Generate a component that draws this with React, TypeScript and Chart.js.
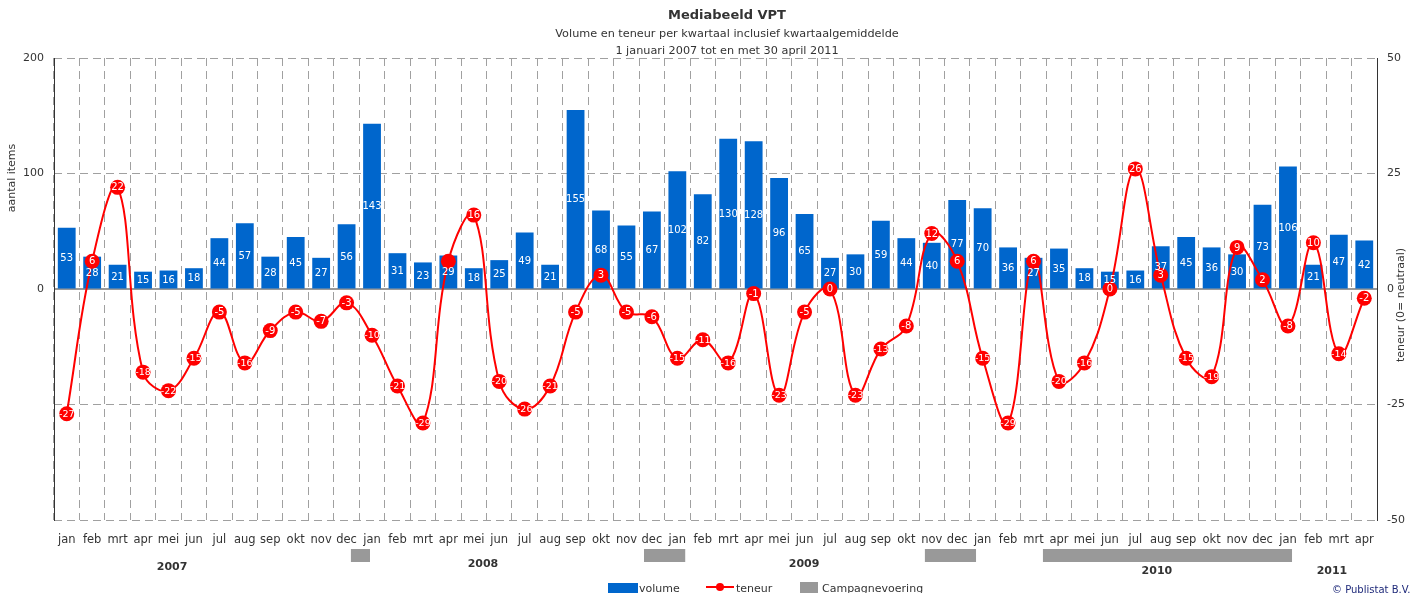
import React, { useEffect, useRef } from 'react';
import { Chart, registerables } from 'chart.js';

Chart.register(...registerables);

const FONT = '"DejaVu Sans", Verdana, sans-serif';

const categories = [
  'jan', 'feb', 'mrt', 'apr', 'mei', 'jun', 'jul', 'aug', 'sep', 'okt', 'nov', 'dec',
  'jan', 'feb', 'mrt', 'apr', 'mei', 'jun', 'jul', 'aug', 'sep', 'okt', 'nov', 'dec',
  'jan', 'feb', 'mrt', 'apr', 'mei', 'jun', 'jul', 'aug', 'sep', 'okt', 'nov', 'dec',
  'jan', 'feb', 'mrt', 'apr', 'mei', 'jun', 'jul', 'aug', 'sep', 'okt', 'nov', 'dec',
  'jan', 'feb', 'mrt', 'apr',
];

const volume = [
  53, 28, 21, 15, 16, 18, 44, 57, 28, 45, 27, 56,
  143, 31, 23, 29, 18, 25, 49, 21, 155, 68, 55, 67,
  102, 82, 130, 128, 96, 65, 27, 30, 59, 44, 40, 77,
  70, 36, 27, 35, 18, 15, 16, 37, 45, 36, 30, 73,
  106, 21, 47, 42,
];

const teneur = [
  -27, 6, 22, -18, -22, -15, -5, -16, -9, -5, -7, -3,
  -10, -21, -29, 6, 16, -20, -26, -21, -5, 3, -5, -6,
  -15, -11, -16, -1, -23, -5, 0, -23, -13, -8, 12, 6,
  -15, -29, 6, -20, -16, 0, 26, 3, -15, -19, 9, 2,
  -8, 10, -14, -2,
];

// point labels hidden behind an overlapping bar label
const hiddenTeneurLabels = [15];

const years = ['2007', '2008', '2009', '2010', '2011'];
const yearAnchor = [4.14, 16.36, 28.98, 42.85, 49.73];

// campaign periods in month-index units (start, end)
const campaignStart = [11.17, 22.69, 33.73, 38.37];
const campaignEnd = [11.92, 24.31, 35.74, 48.16];

const titleText = 'Mediabeeld VPT';
const subtitleLines = [
  'Volume en teneur per kwartaal inclusief kwartaalgemiddelde',
  '1 januari 2007 tot en met 30 april 2011',
];

const BLUE = '#0066CC';
const RED = '#FF0000';
const GRID = '#a0a0a0';
const TEXT = '#333333';

const decorPlugin = {
  id: 'decor',
  afterDatasetsDraw(chart: any) {
    const ctx = chart.ctx;
    const barMeta = chart.getDatasetMeta(0);
    const lineMeta = chart.getDatasetMeta(1);
    ctx.save();
    ctx.fillStyle = '#ffffff';
    ctx.textAlign = 'center';
    ctx.textBaseline = 'middle';
    lineMeta.data.forEach((pt: any, i: number) => {
      if (hiddenTeneurLabels.includes(i)) return;
      const t = String(teneur[i]);
      ctx.font = `${t.length >= 3 ? 9.5 : 10}px ${FONT}`;
      ctx.fillText(t, pt.x, pt.y + 0.5);
    });
    ctx.font = `10px ${FONT}`;
    barMeta.data.forEach((b: any, i: number) => {
      ctx.fillText(String(volume[i]), b.x, (b.y + b.base) / 2 + 0.5);
    });
    ctx.restore();
  },
  afterDraw(chart: any) {
    const ctx = chart.ctx;
    const x = chart.scales.x;
    ctx.save();
    ctx.fillStyle = TEXT;
    ctx.textAlign = 'center';
    ctx.textBaseline = 'middle';
    ctx.font = `bold 13px ${FONT}`;
    ctx.fillText(titleText, 727, 16);
    ctx.font = `11.25px ${FONT}`;
    ctx.fillText(subtitleLines[0], 727, 34);
    ctx.fillText(subtitleLines[1], 727, 51);

    // axis titles
    ctx.font = `11px ${FONT}`;
    ctx.save();
    ctx.translate(12, 178);
    ctx.rotate(-Math.PI / 2);
    ctx.fillText('aantal items', 0, 0);
    ctx.restore();
    ctx.save();
    ctx.translate(1401, 305);
    ctx.rotate(-Math.PI / 2);
    ctx.fillText('teneur (0= neutraal)', 0, 0);
    ctx.restore();

    // campaign bars
    ctx.fillStyle = '#999999';
    campaignStart.forEach((s, i) => {
      const x0 = x.getPixelForValue(s);
      const x1 = x.getPixelForValue(campaignEnd[i]);
      ctx.fillRect(x0, 549, x1 - x0, 13);
    });

    // year labels
    ctx.fillStyle = TEXT;
    ctx.font = `bold 11px ${FONT}`;
    const yearY = [567, 564, 564, 571, 571];
    years.forEach((y, i) => {
      ctx.fillText(y, x.getPixelForValue(yearAnchor[i]), yearY[i]);
    });

    // legend
    ctx.textAlign = 'left';
    ctx.font = `11px ${FONT}`;
    ctx.fillStyle = BLUE;
    ctx.fillRect(608, 583, 30, 12);
    ctx.fillStyle = TEXT;
    ctx.fillText('volume', 639, 589);
    ctx.strokeStyle = RED;
    ctx.lineWidth = 2;
    ctx.beginPath();
    ctx.moveTo(706, 587);
    ctx.lineTo(734, 587);
    ctx.stroke();
    ctx.fillStyle = RED;
    ctx.beginPath();
    ctx.arc(720, 587, 4, 0, Math.PI * 2);
    ctx.fill();
    ctx.fillStyle = TEXT;
    ctx.fillText('teneur', 736, 589);
    ctx.fillStyle = '#999999';
    ctx.fillRect(800, 582, 18, 14);
    ctx.fillStyle = TEXT;
    ctx.fillText('Campagnevoering', 822, 589);

    ctx.fillStyle = '#1f2a7a';
    ctx.font = `10px ${FONT}`;
    ctx.fillText('\u00A9 Publistat B.V.', 1332, 590);
    ctx.restore();
  },
};

export default function App() {
  const ref = useRef<HTMLCanvasElement | null>(null);
  useEffect(() => {
    if (!ref.current) return;
    Chart.defaults.font.family = FONT;
    const chart = new Chart(ref.current, {
      type: 'bar',
      data: {
        labels: categories,
        datasets: [
          {
            type: 'bar',
            label: 'volume',
            data: volume,
            yAxisID: 'yL',
            backgroundColor: BLUE,
            barPercentage: 0.7,
            categoryPercentage: 1,
            order: 2,
          } as any,
          {
            type: 'line',
            label: 'teneur',
            data: teneur,
            yAxisID: 'yR',
            borderColor: RED,
            borderWidth: 2,
            backgroundColor: RED,
            pointRadius: 7.5,
            pointBackgroundColor: RED,
            pointBorderColor: RED,
            pointBorderWidth: 0,
            tension: 0.4,
            order: 1,
          } as any,
        ],
      },
      options: {
        responsive: false,
        animation: false,
        layout: { padding: { top: 58, left: 0, right: 0, bottom: 0 } },
        plugins: {
          legend: { display: false },
          tooltip: { enabled: false },
          title: { display: false },
        },
        scales: {
          x: {
            type: 'category',
            offset: true,
            grid: { offset: true, color: GRID, lineWidth: 1, drawTicks: false },
            border: { display: false, dash: [8, 5] },
            ticks: {
              color: TEXT,
              font: { size: 11.5 },
              padding: 13,
              autoSkip: false,
              maxRotation: 0,
              minRotation: 0,
            },
            afterFit: (s: any) => {
              s.height = 73;
            },
          },
          yL: {
            position: 'left',
            min: -200,
            max: 200,
            ticks: {
              stepSize: 100,
              color: TEXT,
              font: { size: 11 },
              padding: 10,
              callback: (v: any) => (Number(v) >= 0 ? String(v) : ''),
            },
            grid: { drawOnChartArea: false, drawTicks: false },
            border: { display: true, color: TEXT, width: 1 },
            afterFit: (s: any) => {
              s.width = 54;
            },
          },
          yR: {
            position: 'right',
            min: -50,
            max: 50,
            ticks: { stepSize: 25, color: TEXT, font: { size: 11 }, padding: 10 },
            grid: {
              drawTicks: false,
              color: (c: any) => (c.tick && c.tick.value === 0 ? '#999999' : GRID),
              lineWidth: (c: any) => (c.tick && c.tick.value === 0 ? 2 : 1),
            },
            border: {
              display: true,
              color: TEXT,
              width: 1,
              dash: (c: any) => (c.tick && c.tick.value === 0 ? [] : [8, 5]),
            },
            afterFit: (s: any) => {
              s.width = 44;
            },
          },
        } as any,
      },
      plugins: [decorPlugin],
    });
    return () => chart.destroy();
  }, []);
  return (
    <div style={{ position: 'fixed', left: 0, top: 0, width: 1421, height: 593, background: '#fff' }}>
      <canvas ref={ref} width={1421} height={593} style={{ display: 'block' }} />
    </div>
  );
}
